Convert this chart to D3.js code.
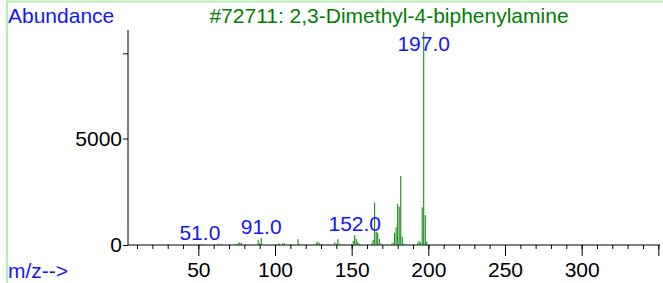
<!DOCTYPE html>
<html>
<head>
<style>
  body { margin: 0; background: #fff; }
  svg text { font-family: Arial, "Liberation Sans", sans-serif; }
</style>
<script src="https://d3js.org/d3.v7.min.js"></script>
</head>
<body>
<svg width="663" height="283"></svg>
<script>
// spectrum
const mz = [51, 52, 63, 65, 74, 75, 76, 77, 78, 89, 90, 91, 102, 103, 105, 106, 115, 116,
  127, 128, 129, 130, 139, 140, 141, 142, 150, 151, 152, 153, 154, 155,
  163, 164, 165, 166, 167, 168, 169, 176, 177, 178, 179, 180, 181, 182, 183, 184,
  193, 194, 195, 196, 197, 198, 199]
const abundance = [40, 30, 60, 40, 30, 50, 80, 130, 90, 230, 80, 320, 60, 60, 70, 90, 270, 60,
  110, 160, 80, 50, 120, 60, 270, 60, 50, 200, 460, 280, 150, 60,
  80, 240, 1990, 610, 580, 280, 80, 60, 110, 570, 830, 1920, 1800, 3240, 380, 60,
  80, 190, 120, 1770, 10000, 1410, 160]
const labelledPeaks = [51, 91, 152, 197]

const xMinor = d3.range(10, 351, 10)
const xMajor = [50, 100, 150, 200, 250, 300, 350]
const xLabels = ["50", "100", "150", "200", "250", "300", ""]
const yTicks = [0, 5000, 9000]
const yLabels = ["0", "5000", ""]

const title = "#72711: 2,3-Dimethyl-4-biphenylamine"

const svg = d3.select("svg")
const blue = "#1414ff", green = "#008000"
const fs = 21

const x = d3.scaleLinear().domain([0, 350]).range([121.7, 658.3])
const y = d3.scaleLinear().domain([0, 10000]).range([245, 32])

// light green frame
svg.append("path")
  .attr("d", "M7,290 L7,1.5 L670,1.5")
  .attr("fill", "none")
  .attr("stroke", "#b4f0b4")
  .attr("stroke-width", 2)

// x axis
const gx = svg.append("g").attr("transform", "translate(0,245)")
gx.call(d3.axisBottom(x).tickValues(xMinor).tickSize(4).tickFormat(""))
gx.append("g").call(d3.axisBottom(x).tickValues(xMajor).tickSize(11).tickPadding(6)
  .tickFormat((d, i) => xLabels[i]))
gx.selectAll(".domain").remove()
gx.append("line").attr("x1", 128).attr("x2", 660).attr("stroke", "#000")
gx.selectAll("text").attr("font-size", fs).attr("font-family", "Arial, 'Liberation Sans', sans-serif").attr("fill", "#000")

// y axis
const gy = svg.append("g").attr("transform", "translate(128,0)")
gy.call(d3.axisLeft(y).tickValues(yTicks).tickSize(5).tickPadding(1)
  .tickFormat((d, i) => yLabels[i]))
gy.select(".domain").remove()
gy.append("line").attr("y1", 30).attr("y2", 245).attr("stroke", "#000")
gy.selectAll("text").attr("font-size", fs).attr("font-family", "Arial, 'Liberation Sans', sans-serif").attr("fill", "#000")

// peaks
svg.append("g").selectAll("line")
  .data(mz)
  .join("line")
  .attr("x1", d => x(d)).attr("x2", d => x(d))
  .attr("y1", y(0))
  .attr("y2", (d, i) => y(abundance[i]))
  .attr("stroke", green)
  .attr("stroke-width", 1)

// peak labels
svg.append("g").selectAll("text")
  .data(labelledPeaks)
  .join("text")
  .attr("x", d => x(d))
  .attr("y", d => Math.max(y(abundance[mz.indexOf(d)]) - 4, 51))
  .attr("text-anchor", "middle")
  .attr("font-size", fs)
  .attr("fill", blue)
  .text(d => d.toFixed(1))

svg.append("text").attr("x", 8).attr("y", 23).attr("font-size", fs).attr("fill", blue).text("Abundance")
svg.append("text").attr("x", 389).attr("y", 23).attr("font-size", fs).attr("text-anchor", "middle")
  .attr("fill", green).text(title)
svg.append("text").attr("x", 8).attr("y", 278).attr("font-size", fs).attr("fill", blue).text("m/z-->")
</script>
</body>
</html>
